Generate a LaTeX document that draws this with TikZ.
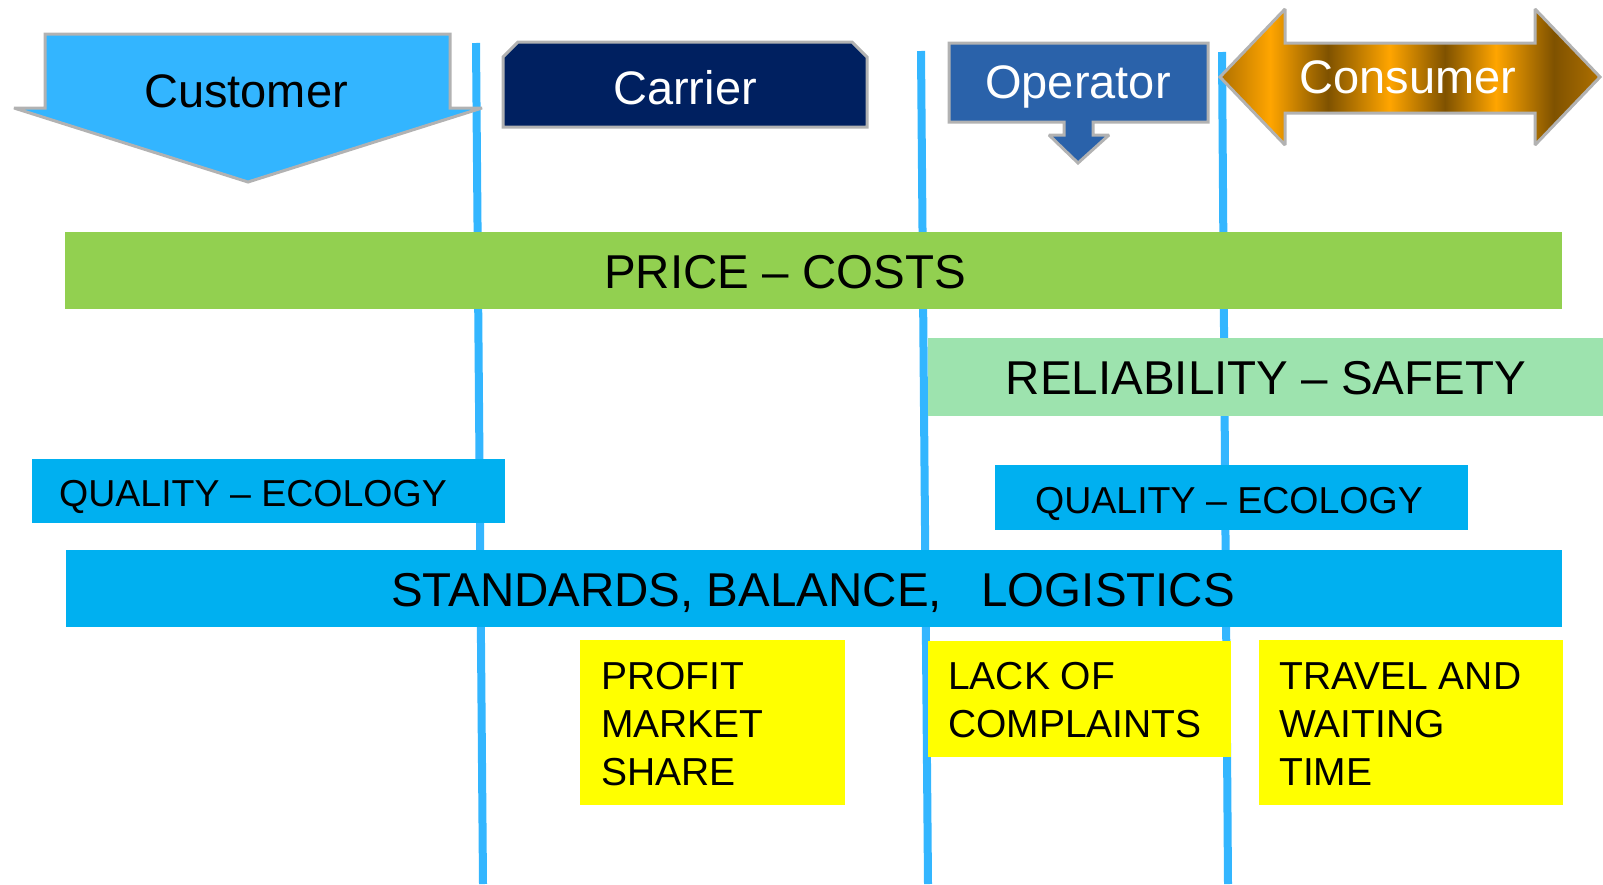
\documentclass[tikz,border=0pt]{standalone}
\usepackage{fontspec}
\setmainfont{Liberation Sans}
\definecolor{vline}{RGB}{51,182,255}
\definecolor{custblue}{RGB}{51,181,255}
\definecolor{navy}{RGB}{0,32,96}
\definecolor{opblue}{RGB}{42,98,170}
\definecolor{bordergray}{RGB}{178,178,178}
\definecolor{pricegreen}{RGB}{146,208,80}
\definecolor{relgreen}{RGB}{157,227,174}
\definecolor{qualblue}{RGB}{0,176,240}
\definecolor{notey}{RGB}{255,255,0}
\definecolor{golddark}{RGB}{127,82,0}
\definecolor{goldmid}{RGB}{175,112,0}
\definecolor{goldor}{RGB}{255,165,0}
\pgfdeclarehorizontalshading{goldstripes}{100bp}{color(0bp)=(goldmid); color(25bp)=(goldmid); color(31.6bp)=(goldor); color(39.2bp)=(golddark); color(47.3bp)=(goldor); color(54.6bp)=(golddark); color(61.3bp)=(goldor); color(68.9bp)=(golddark); color(75bp)=(goldmid); color(100bp)=(goldmid)}
\tikzset{
  vbar/.style={draw=vline, line width=8pt},
  headshape/.style={draw=bordergray, line width=3pt, line join=miter, miter limit=2},
  bigtxt/.style={inner sep=0pt, anchor=base, font=\fontsize{47}{56}\selectfont},
  bandtxt/.style={inner sep=0pt, anchor=base, font=\fontsize{47.5}{56}\selectfont},
  qualtxt/.style={inner sep=0pt, anchor=base, font=\fontsize{37.5}{45}\selectfont},
  notetxt/.style={inner sep=0pt, anchor=base west, font=\fontsize{39}{48}\selectfont},
}
\begin{document}
\begin{tikzpicture}[x=1pt,y=-1pt]
\path[use as bounding box] (0,0) rectangle (1603,884);

% vertical separators
\coordinate (l1t) at (476,43);  \coordinate (l1b) at (483,884);
\coordinate (l2t) at (921,51);  \coordinate (l2b) at (928,884);
\coordinate (l3t) at (1222,52); \coordinate (l3b) at (1228,884);
\draw[vbar] (l1t) -- (l1b);
\draw[vbar] (l2t) -- (l2b);
\draw[vbar] (l3t) -- (l3b);

% Customer arrow
\filldraw[headshape, fill=custblue] (45,34) -- (450,34) -- (450,108) -- (482,108) -- (248,182) -- (14,108) -- (45,108) -- cycle;
\node[bigtxt, text=black] (customer) at (246,107) {Customer};

% Carrier box
\filldraw[headshape, fill=navy] (503,127) -- (503,57) -- (518,42) -- (852,42) -- (867,57) -- (867,127) -- cycle;
\node[bigtxt, text=white] (carrier) at (685,104) {Carrier};

% Operator callout
\filldraw[headshape, fill=opblue] (949,43) -- (1208,43) -- (1208,122) -- (1093,122) -- (1093,135) -- (1109,135) -- (1078,163) -- (1049,135) -- (1064,135) -- (1064,122) -- (949,122) -- cycle;
\node[bigtxt, text=white] (operator) at (1078,98) {Operator};

% Consumer double arrow
\path[shading=goldstripes] (1220,77) -- (1285,9) -- (1285,43) -- (1535,43) -- (1535,9) -- (1600,77) -- (1535,145) -- (1535,113) -- (1285,113) -- (1285,145) -- cycle;
\draw[headshape] (1220,77) -- (1285,9) -- (1285,43) -- (1535,43) -- (1535,9) -- (1600,77) -- (1535,145) -- (1535,113) -- (1285,113) -- (1285,145) -- cycle;
\node[bigtxt, text=white] (consumer) at (1408,93) {Consumer};

% bands
\fill[pricegreen] (65,232) rectangle (1562,309);
\node[bandtxt] (price) at (785,288) {PRICE – COSTS};

\fill[relgreen] (928,338) rectangle (1603,416);
\node[bandtxt] (reliability) at (1266,394) {RELIABILITY – SAFETY};

\fill[qualblue] (32,459) rectangle (505,523);
\node[qualtxt] (quall) at (253,506) {QUALITY – ECOLOGY};

\fill[qualblue] (995,465) rectangle (1468,530);
\node[qualtxt] (qualr) at (1229,513) {QUALITY – ECOLOGY};

\fill[qualblue] (66,550) rectangle (1562,627);
\node[bandtxt, anchor=base west] (standards) at (391,606) {STANDARDS, BALANCE,\ \ \ LOGISTICS};

% yellow notes
\fill[notey] (580,640) rectangle (845,805);
\node[notetxt] (p1) at (601,689) {PROFIT};
\node[notetxt] (p2) at (601,737) {MARKET};
\node[notetxt] (p3) at (601,785) {SHARE};

\fill[notey] (928,641) rectangle (1231,757);
\node[notetxt] (c1) at (948,689) {LACK OF};
\node[notetxt] (c2) at (948,737) {COMPLAINTS};

\fill[notey] (1259,640) rectangle (1563,805);
\node[notetxt] (t1) at (1279,689) {TRAVEL AND};
\node[notetxt] (t2) at (1279,737) {WAITING};
\node[notetxt] (t3) at (1279,785) {TIME};
\end{tikzpicture}
\end{document}
